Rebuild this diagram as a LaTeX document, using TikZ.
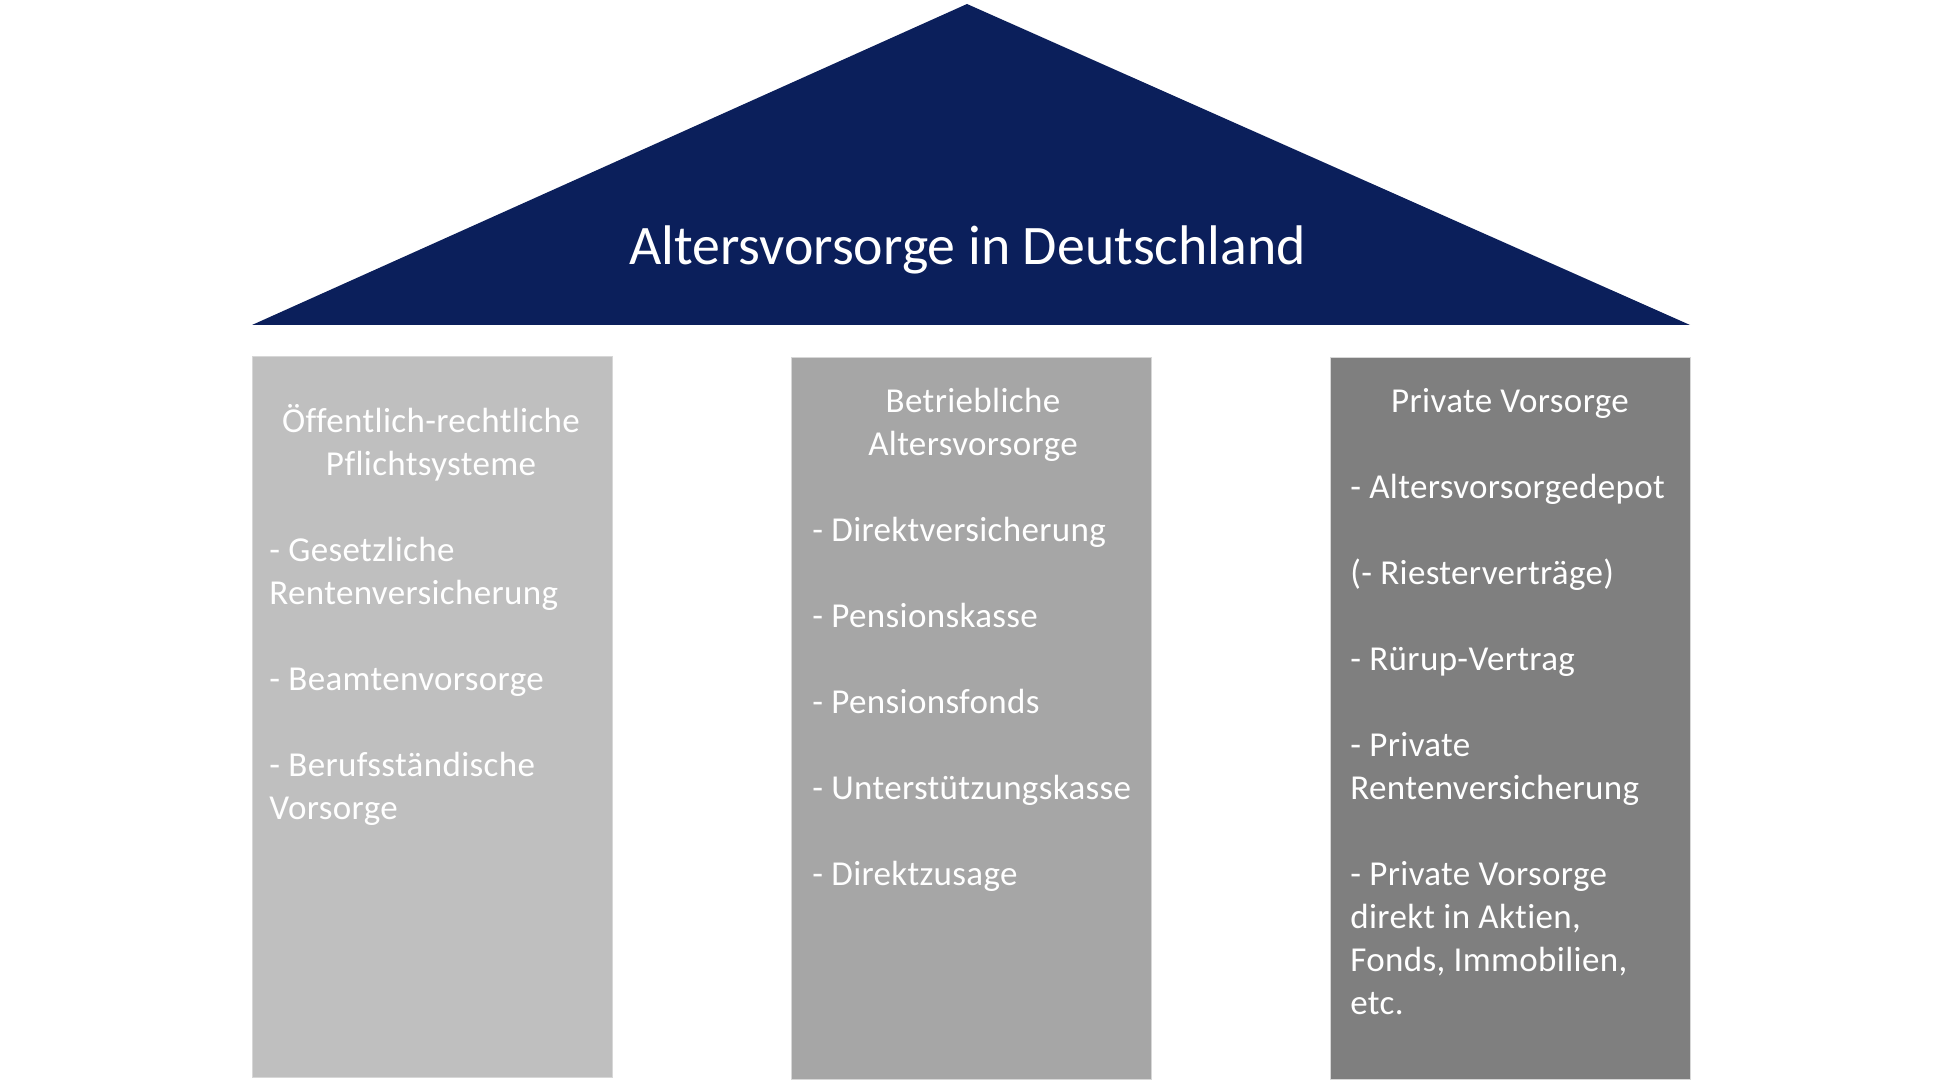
\documentclass[tikz,border=0pt]{standalone}
\usepackage{fontspec}
\setmainfont[Ligatures=NoCommon,LetterSpace=1.0]{Carlito}
\newfontfamily\titlefont[Ligatures=NoCommon]{Carlito}
\definecolor{roofblue}{RGB}{11,31,91}
\definecolor{colA}{RGB}{191,191,191}
\definecolor{colB}{RGB}{166,166,166}
\definecolor{colC}{RGB}{127,127,127}
\definecolor{edgegray}{RGB}{215,215,215}
\begin{document}
\begin{tikzpicture}[x=0.5pt,y=-0.5pt,
  pillar/.style={draw=edgegray,line width=0.5pt},
  txt/.style={inner sep=0pt,text=white,font=\fontsize{17.5}{21.5}\selectfont},
  item/.style={txt,anchor=base west},
  head/.style={txt,anchor=base},
  title/.style={inner sep=0pt,text=white,anchor=base,font=\titlefont\fontsize{27.9}{33}\selectfont}]
\useasboundingbox (0,0) rectangle (1939,1091);
% roof
\fill[roofblue] (252,325) -- (967,4) -- (1690,325) -- cycle;
\node[title] (t) at (967.5,265) {Altersvorsorge in Deutschland};
% pillars
\filldraw[pillar,fill=colA] (252,357) rectangle (612,1077);
\filldraw[pillar,fill=colB] (791,358) rectangle (1151,1079);
\filldraw[pillar,fill=colC] (1330,358) rectangle (1690,1079);
% left column
\node[head] (a0) at (431,432) {Öffentlich-rechtliche};
\node[head] (a1) at (431,475) {Pflichtsysteme};
\node[item] (a3) at (269,561) {- Gesetzliche};
\node[item] (a4) at (269,604) {Rentenversicherung};
\node[item] (a6) at (269,690) {- Beamtenvorsorge};
\node[item] (a8) at (269,776) {- Berufsständische};
\node[item] (a9) at (269,819) {Vorsorge};
% middle column
\node[head] (b0) at (973,412) {Betriebliche};
\node[head] (b1) at (973,455) {Altersvorsorge};
\node[item] (b3) at (812,541) {- Direktversicherung};
\node[item] (b5) at (812,627) {- Pensionskasse};
\node[item] (b7) at (812,713) {- Pensionsfonds};
\node[item] (b9) at (812,799) {- Unterstützungskasse};
\node[item] (b11) at (812,885) {- Direktzusage};
% right column
\node[head] (c0) at (1510,412) {Private Vorsorge};
\node[item] (c2) at (1350,498) {- Altersvorsorgedepot};
\node[item] (c4) at (1350,584) {(- Riesterverträge)};
\node[item] (c6) at (1350,670) {- Rürup-Vertrag};
\node[item] (c8) at (1350,756) {- Private};
\node[item] (c9) at (1350,799) {Rentenversicherung};
\node[item] (c11) at (1350,885) {- Private Vorsorge};
\node[item] (c12) at (1350,928) {direkt in Aktien,};
\node[item] (c13) at (1350,971) {Fonds, Immobilien,};
\node[item] (c14) at (1350,1014) {etc.};
\end{tikzpicture}
\end{document}
